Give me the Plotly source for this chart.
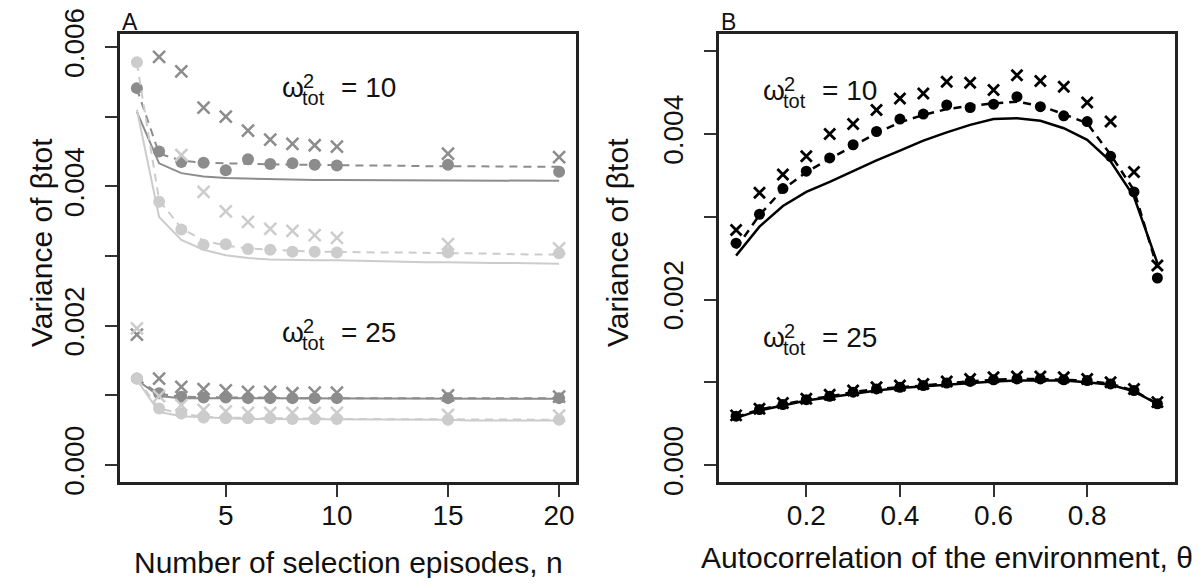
import plotly.graph_objects as go

# ---------------- Panel A data ----------------
n_line = list(range(1, 21))
n_pts = [1, 2, 3, 4, 5, 6, 7, 8, 9, 10, 15, 20]

# omega^2_tot = 10
a10_dark_solid = [0.00507, 0.00433, 0.00419, 0.00414, 0.00412, 0.00411, 0.00410, 0.00410, 0.00409, 0.00409,
                  0.00409, 0.00409, 0.00409, 0.00409, 0.00409, 0.00408, 0.00408, 0.00408, 0.00408, 0.00408]
a10_dark_dash = [0.00540, 0.00447, 0.00437, 0.00434, 0.00433, 0.00432, 0.00432, 0.00431, 0.00431, 0.00430,
                 0.00430, 0.00430, 0.00429, 0.00429, 0.00429, 0.00429, 0.00428, 0.00428, 0.00428, 0.00428]
a10_light_solid = [0.00510, 0.00356, 0.00323, 0.00309, 0.00301, 0.00297, 0.00295, 0.00294, 0.00294, 0.00294,
                   0.00293, 0.00292, 0.00292, 0.00291, 0.00291, 0.00290, 0.00290, 0.00290, 0.00289, 0.00289]
a10_light_dash = [0.00577, 0.00380, 0.00340, 0.00322, 0.00315, 0.00311, 0.00309, 0.00307, 0.00306, 0.00306,
                  0.00305, 0.00305, 0.00305, 0.00304, 0.00304, 0.00304, 0.00303, 0.00303, 0.00302, 0.00302]
a10_dark_dots = [0.00541, 0.00450, 0.00435, 0.00434, 0.00423, 0.00439, 0.00432, 0.00433, 0.00431, 0.00430, 0.00431, 0.00421]
a10_light_dots = [0.00578, 0.00378, 0.00338, 0.00316, 0.00317, 0.00310, 0.00309, 0.00306, 0.00306, 0.00305, 0.00305, 0.00304]
# None = value above the plotted range (not visible in the figure)
a10_dark_cross = [None, 0.00586, 0.00565, 0.00513, 0.00500, 0.00480, 0.00467, 0.00461, 0.00459, 0.00457, 0.00447, 0.00442]
a10_light_cross = [None, None, 0.00445, 0.00392, 0.00364, 0.00349, 0.00339, 0.00336, 0.00330, 0.00326, 0.00317, 0.00311]

# omega^2_tot = 25
a25_dark_solid = [0.00122, 0.00099, 0.00096, 0.00096, 0.00095, 0.00095, 0.00095, 0.00095, 0.00095, 0.00095,
                  0.00095, 0.00095, 0.00095, 0.00095, 0.00095, 0.00095, 0.00095, 0.00095, 0.00095, 0.00095]
a25_dark_dash = [0.00124, 0.00102, 0.00098, 0.00097, 0.00097, 0.00097, 0.00096, 0.00096, 0.00096, 0.00096,
                 0.00096, 0.00096, 0.00096, 0.00096, 0.00096, 0.00096, 0.00096, 0.00096, 0.00096, 0.00096]
a25_light_solid = [0.00122, 0.00076, 0.00070, 0.00068, 0.00067, 0.00066, 0.00066, 0.00066, 0.00065, 0.00065,
                   0.00065, 0.00065, 0.00065, 0.00065, 0.00065, 0.00064, 0.00064, 0.00064, 0.00064, 0.00064]
a25_light_dash = [0.00124, 0.00081, 0.00074, 0.00069, 0.00068, 0.00067, 0.00067, 0.00067, 0.00066, 0.00066,
                  0.00066, 0.00066, 0.00066, 0.00066, 0.00066, 0.00065, 0.00065, 0.00065, 0.00065, 0.00065]
a25_dark_dots = [0.00124, 0.00103, 0.00098, 0.00097, 0.00097, 0.00096, 0.00096, 0.00096, 0.00096, 0.00096, 0.00096, 0.00096]
a25_light_dots = [0.00124, 0.00081, 0.00074, 0.00068, 0.00067, 0.00067, 0.00067, 0.00066, 0.00066, 0.00066, 0.00065, 0.00065]
a25_dark_cross = [0.00187, 0.00124, 0.00112, 0.00109, 0.00107, 0.00105, 0.00105, 0.00103, 0.00104, 0.00104, 0.00100, 0.00098]
a25_light_cross = [0.00196, 0.00099, 0.00086, 0.00079, 0.00077, 0.00075, 0.00075, 0.00075, 0.00075, 0.00075, 0.00072, 0.00071]

# ---------------- Panel B data ----------------
theta = [0.05, 0.10, 0.15, 0.20, 0.25, 0.30, 0.35, 0.40, 0.45, 0.50,
         0.55, 0.60, 0.65, 0.70, 0.75, 0.80, 0.85, 0.90, 0.95]
b10_solid = [0.00253, 0.00288, 0.00313, 0.00330, 0.00342, 0.00355, 0.00368, 0.00380, 0.00392, 0.00402,
             0.00411, 0.00418, 0.00419, 0.00416, 0.00407, 0.00393, 0.00367, 0.00324, 0.00244]
b10_dash = [0.00262, 0.00302, 0.00333, 0.00354, 0.00370, 0.00386, 0.00401, 0.00414, 0.00423, 0.00430,
            0.00434, 0.00437, 0.00439, 0.00434, 0.00424, 0.00413, 0.00375, 0.00332, 0.00238]
b10_dots = [0.00268, 0.00303, 0.00334, 0.00355, 0.00371, 0.00387, 0.00403, 0.00418, 0.00424, 0.00435,
            0.00432, 0.00436, 0.00445, 0.00433, 0.00422, 0.00415, 0.00373, 0.00330, 0.00226]
b10_cross = [0.00284, 0.00329, 0.00351, 0.00373, 0.00400, 0.00412, 0.00429, 0.00443, 0.00449, 0.00463,
             0.00462, 0.00453, 0.00471, 0.00464, 0.00457, 0.00438, 0.00415, 0.00354, 0.00241]
b25_solid = [0.00057, 0.00066, 0.00072, 0.00078, 0.00082, 0.00086, 0.00090, 0.00093, 0.00095, 0.00097,
             0.00099, 0.00101, 0.00102, 0.00102, 0.00102, 0.00100, 0.00097, 0.00089, 0.00074]
b25_dash = [0.00058, 0.00067, 0.00073, 0.00079, 0.00083, 0.00088, 0.00092, 0.00094, 0.00096, 0.00099,
            0.00101, 0.00103, 0.00104, 0.00104, 0.00103, 0.00102, 0.00098, 0.00090, 0.00074]
b25_dots = [0.00059, 0.00067, 0.00073, 0.00079, 0.00083, 0.00088, 0.00092, 0.00094, 0.00096, 0.00099,
            0.00101, 0.00103, 0.00104, 0.00104, 0.00103, 0.00102, 0.00098, 0.00090, 0.00074]
b25_cross = [0.00060, 0.00068, 0.00075, 0.00080, 0.00085, 0.00090, 0.00094, 0.00096, 0.00098, 0.00101,
             0.00104, 0.00106, 0.00107, 0.00107, 0.00106, 0.00104, 0.00100, 0.00092, 0.00076]

ytick_vals = [0.000, 0.001, 0.002, 0.003, 0.004, 0.005, 0.006]
ytick_text = ["0.000", "", "0.002", "", "0.004", "", "0.006"]
xtickA = [5, 10, 15, 20]
xtickB = [0.2, 0.4, 0.6, 0.8]

# ---------------- styling ----------------
OFF = 8                      # default page body margin of the html page
W, H = 1201 - 2 * OFF, 586 - 2 * OFF
FONT = "Liberation Sans, Arial, sans-serif"
DARK = "#8c8c8c"
LIGHT = "#cccccc"
BLACK = "#000000"


def fx(x):
    return (x - OFF) / W


def fy(y):
    return 1 - (y - OFF) / H


fig = go.Figure()


def line(xs, ys, color, dash, xa, ya, width=2):
    fig.add_trace(go.Scatter(x=xs, y=ys, mode="lines", xaxis=xa, yaxis=ya,
                             line=dict(color=color, width=width, dash=dash),
                             showlegend=False, hoverinfo="skip"))


def dots(xs, ys, color, xa, ya, size=12):
    fig.add_trace(go.Scatter(x=xs, y=ys, mode="markers", xaxis=xa, yaxis=ya,
                             marker=dict(symbol="circle", size=size, color=color),
                             showlegend=False))


def cross(xs, ys, color, xa, ya, size=12, lw=2.5):
    fig.add_trace(go.Scatter(x=xs, y=ys, mode="markers", xaxis=xa, yaxis=ya,
                             marker=dict(symbol="x-thin", size=size, color=color,
                                         line=dict(color=color, width=lw)),
                             showlegend=False))


DASH = "8px,6px"
# Panel A – dark series first, light series on top
for solid, dsh, dt, cr in [(a10_dark_solid, a10_dark_dash, a10_dark_dots, a10_dark_cross),
                           (a25_dark_solid, a25_dark_dash, a25_dark_dots, a25_dark_cross)]:
    line(n_line, solid, DARK, "solid", "x", "y")
    line(n_line, dsh, DARK, DASH, "x", "y")
    dots(n_pts, dt, DARK, "x", "y")
    cross(n_pts, cr, DARK, "x", "y")
for solid, dsh, dt, cr in [(a10_light_solid, a10_light_dash, a10_light_dots, a10_light_cross),
                           (a25_light_solid, a25_light_dash, a25_light_dots, a25_light_cross)]:
    line(n_line, solid, LIGHT, "solid", "x", "y")
    line(n_line, dsh, LIGHT, DASH, "x", "y")
    dots(n_pts, dt, LIGHT, "x", "y")
    cross(n_pts, cr, LIGHT, "x", "y")

# Panel B
for solid, dsh, dt, cr in [(b10_solid, b10_dash, b10_dots, b10_cross),
                           (b25_solid, b25_dash, b25_dots, b25_cross)]:
    line(theta, solid, BLACK, "solid", "x2", "y2", width=2.5)
    line(theta, dsh, BLACK, DASH, "x2", "y2", width=2.5)
    dots(theta, dt, BLACK, "x2", "y2", size=11)
    cross(theta, cr, BLACK, "x2", "y2", size=11, lw=2.8)

axis_common = dict(showgrid=False, zeroline=False, showline=True, mirror=True,
                   linecolor="#222222", linewidth=2.5, ticks="outside", ticklen=12,
                   tickwidth=1.5, tickcolor="#333333",
                   tickfont=dict(family=FONT, size=28, color="#111111"),
                   ticklabeloverflow="allow", automargin=False)

ydomain = [fy(482), fy(34)]
fig.update_layout(
    width=W, height=H,
    margin=dict(l=0, r=0, t=0, b=0),
    paper_bgcolor="white", plot_bgcolor="white",
    font=dict(family=FONT, color="#111111"),
    xaxis=dict(domain=[fx(120), fx(576)], range=[0.24, 20.76], tickvals=xtickA,
               anchor="y", ticklabelstandoff=-5, **axis_common),
    yaxis=dict(domain=ydomain, range=[-0.000244, 0.006187], tickvals=ytick_vals,
               ticktext=ytick_text, tickangle=-90, anchor="x", ticklabelstandoff=10,
               **axis_common),
    xaxis2=dict(domain=[fx(719), fx(1175)], range=[0.0135, 0.9876], tickvals=xtickB,
                ticktext=["0.2", "0.4", "0.6", "0.8"], anchor="y2", ticklabelstandoff=-5,
                **axis_common),
    yaxis2=dict(domain=ydomain, range=[-0.000205, 0.005208], tickvals=ytick_vals[:6],
                ticktext=ytick_text[:6], tickangle=-90, anchor="x2", ticklabelstandoff=10,
                **axis_common),
)

ann = []


def text(x, y, s, size=28, xanchor="center", yanchor="middle", angle=0):
    ann.append(dict(x=fx(x), y=fy(y), xref="paper", yref="paper", text=s, showarrow=False,
                    xanchor=xanchor, yanchor=yanchor, textangle=angle, borderpad=0,
                    font=dict(family=FONT, size=size, color="#111111")))


def omega_label(L, base, value):
    text(L - 1, base - 9.5, "ω", 28, xanchor="left")
    text(L + 20, base - 15.5, "2", 20, xanchor="left")
    text(L + 19, base + 1.5, "tot", 20, xanchor="left")
    text(L + 58, base - 9.5, "= " + value, 28, xanchor="left")


omega_label(281.7, 96.7, "10")
omega_label(281.7, 341.7, "25")
omega_label(763.0, 100.0, "10")
omega_label(763.0, 346.7, "25")

# axis titles
text(348, 562, "Number of selection episodes, n", 30)
text(947, 557, "Autocorrelation of the environment, θ", 30)
text(42, 243, "Variance of βtot", 30, angle=-90)
text(618, 243, "Variance of βtot", 30, angle=-90)

# panel letters
text(121, 22, "A", 23, xanchor="left")
text(720, 22, "B", 23, xanchor="left")

fig.update_layout(annotations=ann)
fig.write_html("out.html")
